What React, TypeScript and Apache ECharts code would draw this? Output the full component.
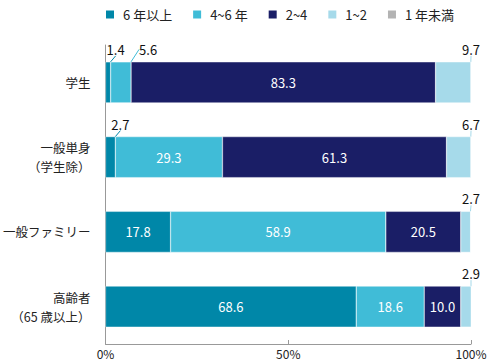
import React, { useEffect, useRef } from "react";
import * as echarts from "echarts";

const categories = ["学生", "一般単身\n（学生除）", "一般ファミリー", "高齢者\n（65 歳以上）"];
const seriesNames = ["6 年以上", "4~6 年", "2~4", "1~2", "1 年未満"];
const over6 = [1.4, 2.7, 17.8, 68.6];
const y4to6 = [5.6, 29.3, 58.9, 18.6];
const y2to4 = [83.3, 61.3, 20.5, 10.0];
const y1to2 = [9.7, 6.7, 2.7, 2.9];
const under1 = [0, 0, 0, 0];
const xTicks = [0, 50, 100];

const colors = ["#0087A8", "#40BCD7", "#1A1E66", "#A6DAEA", "#B3B3B3"];
const FONT = "'Noto Sans CJK JP', 'Noto Sans', sans-serif";
const OUTSIDE_LIMIT = 9.95;

export default function App() {
  const ref = useRef<HTMLDivElement>(null);
  useEffect(() => {
    if (!ref.current) return;
    const chart = echarts.init(ref.current, undefined, { renderer: "svg" });
    const allData = [over6, y4to6, y2to4, y1to2, under1];
    const gridRight = 471;
    const series = allData.map((arr, si) => ({
      name: seriesNames[si],
      type: "bar",
      stack: "total",
      barWidth: 41,
      itemStyle: { color: colors[si], borderColor: "#ffffff", borderWidth: 0.4 },
      data: arr.map((v) => {
        if (v === 0) return { value: v, label: { show: false } };
        if (v < OUTSIDE_LIMIT) {
          return {
            value: v,
            label: {
              show: true,
              position: "top",
              color: "#111",
              fontSize: 13,
              fontFamily: FONT,
              formatter: (p: any) => Number(p.value).toFixed(1),
            },
            labelLine: { show: true, lineStyle: { color: colors[si], width: 1 } },
          };
        }
        return {
          value: v,
          label: {
            show: true,
            position: "inside",
            color: "#fff",
            fontSize: 13,
            fontFamily: FONT,
            formatter: (p: any) => Number(p.value).toFixed(1),
          },
        };
      }),
      labelLayout: (params: any) => {
        const v = arr[params.dataIndex];
        if (v === 0 || v >= OUTSIDE_LIMIT) return {};
        const r = params.rect;
        let x = r.x + r.width + 8 - (si === 0 ? 12 : 0);
        if (x > gridRight - 9) x = gridRight - 9;
        return { x, y: r.y - 6, align: "left", verticalAlign: "bottom" };
      },
    }));

    chart.setOption({
      animation: false,
      textStyle: { fontFamily: FONT },
      legend: {
        top: 3,
        left: 99,
        itemWidth: 10,
        itemHeight: 10,
        itemGap: 19,
        icon: "rect",
        data: seriesNames,
        textStyle: { fontSize: 13, color: "#222", fontFamily: FONT, padding: [0, 0, 0, 3] },
      },
      grid: { left: 103, right: 490 - gridRight, top: 45, bottom: 19, containLabel: false },
      xAxis: {
        type: "value",
        min: xTicks[0],
        max: xTicks[xTicks.length - 1],
        interval: 50,
        axisLine: { show: true, lineStyle: { color: "#999" } },
        axisTick: { show: true, inside: true, length: 4, lineStyle: { color: "#999" } },
        splitLine: { show: false },
        axisLabel: { formatter: "{value}%", color: "#222", fontSize: 12, margin: 3, lineHeight: 13 },
      },
      yAxis: {
        type: "category",
        inverse: true,
        data: categories,
        axisLine: { show: true, lineStyle: { color: "#999" } },
        axisTick: { show: false },
        axisLabel: { color: "#222", fontSize: 12.5, margin: 15, lineHeight: 19, align: "right" },
      },
      series,
    });
    return () => chart.dispose();
  }, []);
  return <div ref={ref} style={{ width: 490, height: 363, position: "absolute", left: 0, top: 0 }} />;
}
